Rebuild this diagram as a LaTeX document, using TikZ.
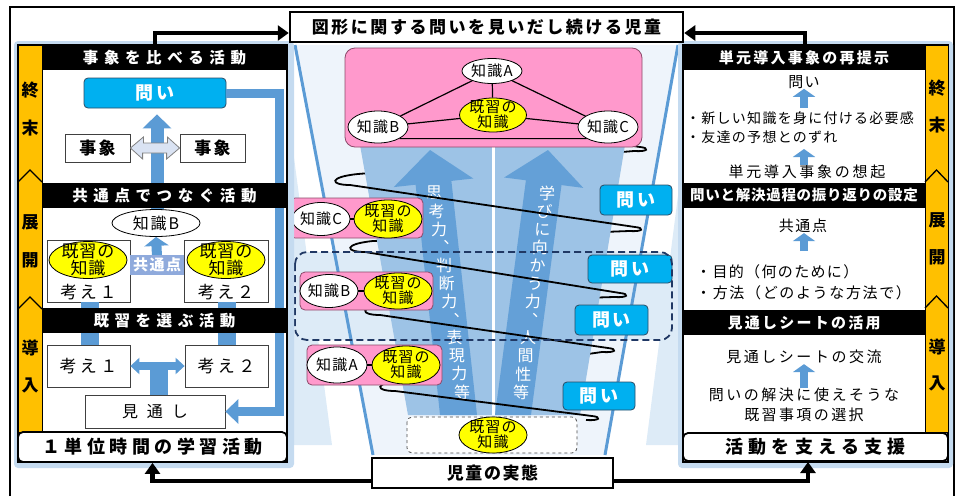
\documentclass[tikz,border=0pt]{standalone}
\usepackage{fontspec}
\setmainfont{Noto Sans CJK JP}
\usetikzlibrary{arrows.meta,calc,shapes.geometric}
\definecolor{cyanbox}{HTML}{00B0F0}
\definecolor{bluearr}{HTML}{5B9BD5}
\definecolor{orangestrip}{HTML}{FFC000}
\definecolor{pinkbox}{HTML}{FF99CC}
\definecolor{yel}{HTML}{FFFF00}
\definecolor{midblue}{HTML}{9DC3E6}
\definecolor{bgblue}{HTML}{DDEBF7}
\definecolor{funnelin}{HTML}{EEF4FB}
\definecolor{navy}{HTML}{203864}
\definecolor{shadowblue}{HTML}{C5DBF0}
\definecolor{lblue}{HTML}{DAE3F3}
\definecolor{kyotsu}{HTML}{8FAADC}
\definecolor{pinkedge}{HTML}{8C4A6A}
\definecolor{toiedge}{HTML}{2B4C66}
\newcommand\fs[2]{\fontsize{#1}{#2}\selectfont}
\newcommand\lsp[1]{\addfontfeatures{LetterSpace=#1}}
\tikzset{
  hdr/.style={fill=black, text=white, inner sep=0pt, minimum height=25},
  boxw/.style={draw=black!75, fill=white, inner sep=0pt, line width=0.8pt},
  toi/.style={draw=toiedge, fill=cyanbox, text=white, rounded corners=4pt, inner sep=0pt, line width=0.8pt, font=\fs{18}{20}\bfseries\lsp{12}},
  kw/.style={ellipse, draw=black, fill=white, inner sep=-6pt, line width=0.8pt, font=\fs{15}{15}\lsp{8}},
  ky/.style={ellipse, draw=black, fill=yel, inner sep=-6pt, line width=0.8pt, align=center, font=\fs{15}{15}\lsp{8}},
  pinkb/.style={draw=pinkedge, fill=pinkbox, line width=0.8pt},
  bk/.style={line width=4.5pt, -{Triangle[width=15pt,length=11pt]}},
  sarr/.style={bluearr, line width=8pt, -{Triangle[width=22pt,length=8pt]}},
  stripl/.style={inner sep=0pt, font=\fs{17}{17}\bfseries},
  txt/.style={inner sep=0pt, font=\fs{15}{16}},
  vt/.style={text=white, inner sep=0pt, font=\fs{16}{16}},
  helix/.style={line width=1.8pt, black},
  botb/.style={draw=black, fill=white, rounded corners=5pt, line width=1.8pt, inner sep=0pt},
}
\begin{document}
\begin{tikzpicture}[x=1pt,y=-1pt]
\useasboundingbox (0,0) rectangle (958,496);
% outer frame
\draw[line width=1.5pt] (10,496) -- (10,7) -- (954,7) -- (954,496);

% ================= MIDDLE BACKGROUND =================
\fill[bgblue] (293,150) -- (293,445) -- (332,445) -- cycle;
\fill[bgblue] (680,180) -- (680,445) -- (646,445) -- cycle;
\fill[funnelin] (295,45) -- (678,45) -- (605,455) -- (373,455) -- cycle;
\fill[bgblue, rounded corners=12pt] (295,252) rectangle (672,340);
\draw[bluearr, line width=3pt] (295,45) -- (373,455);
\draw[bluearr, line width=3pt] (678,45) -- (605,455);

% helix points
\coordinate (R0) at (640,147);
\coordinate (L1) at (338,182);
\coordinate (R1) at (635,227);
\coordinate (L2) at (353,249);
\coordinate (R2) at (620,293);
\coordinate (L3) at (368,312);
\coordinate (R3) at (608,348);
\coordinate (L4) at (383,388);
\coordinate (R4) at (592,416);
% back strokes
\draw[helix] ($(R0)+(-6,4)$) -- ($(L1)+(20,-8)$);
\draw[helix] ($(R1)+(-6,4)$) -- ($(L2)+(20,-8)$);
\draw[helix] ($(R2)+(-6,4)$) -- ($(L3)+(20,-8)$);
\draw[helix] ($(R3)+(-6,4)$) -- ($(L4)+(20,-8)$);

% inner blue trapezoid
\fill[midblue] (360,145) -- (625,145) -- (580,415) -- (408,415) -- cycle;
\draw[white, line width=3pt] (493,145) -- (493,415);
% big arrows
\fill[bluearr, opacity=0.85] (430,150) -- (473.3,178.5) -- (451.4,180.9) -- (477,415) -- (440,415) -- (415.6,184.7) -- (393.7,187.1) -- cycle;
\fill[bluearr, opacity=0.85] (548,150) -- (583.3,187.9) -- (561.5,185.1) -- (531,415) -- (495,415) -- (525.9,180.3) -- (504.1,177.5) -- cycle;
\foreach \c [count=\i] in {思,考,力,︑,判,断,力,︑,表,現,力,等}
  \node[vt] (vl\i) at ({434+(\i-1)*28/11},{193+(\i-1)*199/11}) {\c};
\foreach \c [count=\i] in {学,び,に,向,か,う,力,︑,人,間,性,等}
  \node[vt] (vr\i) at ({547-(\i-1)*26/11},{193+(\i-1)*199/11}) {\c};

% front strokes
\draw[helix] (600,141) -- (R0) .. controls ($(R0)+(10,1)$) and ($(R0)+(8,5)$) .. ($(R0)+(-6,4)$);
\draw[helix] ($(L1)+(20,-8)$) .. controls ($(L1)+(-10,-5)$) and ($(L1)+(-8,3)$) .. ($(L1)+(12,3)$) -- (R1) .. controls ($(R1)+(10,1)$) and ($(R1)+(8,5)$) .. ($(R1)+(-6,4)$);
\draw[helix] ($(L2)+(20,-8)$) .. controls ($(L2)+(-10,-5)$) and ($(L2)+(-8,3)$) .. ($(L2)+(12,3)$) -- (R2) .. controls ($(R2)+(10,1)$) and ($(R2)+(8,5)$) .. ($(R2)+(-6,4)$);
\draw[helix] ($(L3)+(20,-8)$) .. controls ($(L3)+(-10,-5)$) and ($(L3)+(-8,3)$) .. ($(L3)+(12,3)$) -- (R3) .. controls ($(R3)+(10,1)$) and ($(R3)+(8,5)$) .. ($(R3)+(-6,4)$);
\draw[helix] ($(L4)+(20,-8)$) .. controls ($(L4)+(-10,-5)$) and ($(L4)+(-8,3)$) .. ($(L4)+(12,3)$) -- (R4) .. controls ($(R4)+(10,1)$) and ($(R4)+(8,5)$) .. ($(R4)+(-6,4)$);

% bottom dashed box
\draw[dashed, black!70, line width=0.8pt, fill=white, rounded corners=5pt] (407,417) rectangle (577,453);
\node[ky, minimum width=68, minimum height=36] (y0) at (493,435) {既習の\\知識};

% knowledge boxes on the left of the funnel
\draw[pinkb, rounded corners=5pt] (290,198) rectangle (423,238);
\node[kw, minimum width=58, minimum height=33] (cC) at (321,219) {知識C};
\node[ky, minimum width=68, minimum height=38] (cY) at (388,219) {既習の\\知識};
\draw[line width=1.2pt] (cC) -- (cY);
\draw[pinkb, rounded corners=5pt] (300,272) rectangle (433,310);
\node[kw, minimum width=58, minimum height=33] (bB) at (329,291) {知識B};
\node[ky, minimum width=68, minimum height=36] (bY) at (398,291) {既習の\\知識};
\draw[line width=1.2pt] (bB) -- (bY);
\draw[pinkb, rounded corners=5pt] (307,345) rectangle (442,385);
\node[kw, minimum width=60, minimum height=36] (aA) at (337,365) {知識A};
\node[ky, minimum width=68, minimum height=38] (aY) at (406,365) {既習の\\知識};
\draw[line width=1.2pt] (aA) -- (aY);

% question boxes
\node[toi, minimum width=72, minimum height=30] (t1) at (636,200) {問い};
\node[toi, minimum width=84, minimum height=28] (t2) at (630,269) {問い};
\node[toi, minimum width=73, minimum height=30] (t3) at (611.5,320) {問い};
\node[toi, minimum width=72, minimum height=28] (t4) at (599,396) {問い};
\draw[navy, line width=1.8pt, dash pattern=on 7pt off 4pt, rounded corners=12pt] (295,252) rectangle (672,340);

% top pink box
\draw[pinkb, rounded corners=10pt] (345,48) rectangle (642,147);
\node[kw, minimum width=60, minimum height=25] (tA) at (492,71) {知識A};
\node[kw, minimum width=60, minimum height=32] (tB) at (378,127) {知識B};
\node[kw, minimum width=60, minimum height=32] (tC) at (608,127) {知識C};
\node[ky, minimum width=67, minimum height=34] (tY) at (493,115) {既習の\\知識};
\draw[line width=1.2pt] (tA) -- (tB) (tA) -- (tC) (tA) -- (tY) (tB) -- (tY) (tC) -- (tY) (tB.south east) -- (tC.south west);

% ================= LEFT PANEL =================
\fill[shadowblue, rounded corners=4pt] (14,41) rectangle (294,468);
\draw[line width=1.2pt, fill=white] (18,45) rectangle (287,462);
\draw[line width=0.8pt, fill=orangestrip] (18,45) rectangle (42,432);
\draw[line width=1.3pt] (18,182) -- (30,170) -- (42,182);
\draw[line width=1.3pt] (18,309) -- (30,297) -- (42,309);
\node[stripl] (sl1) at (30,90) {終};
\node[stripl] (sl2) at (30,128) {末};
\node[stripl] (sl3) at (30,222) {展};
\node[stripl] (sl4) at (30,260) {開};
\node[stripl] (sl5) at (30,348) {導};
\node[stripl] (sl6) at (30,385) {入};

\node[toi, minimum width=142, minimum height=30] (q1) at (155,93) {問い};
\node[boxw, minimum width=65, minimum height=28, font=\fs{17}{17}\bfseries\lsp{12}] (e1) at (97.5,148) {事象};
\node[boxw, minimum width=65, minimum height=28, font=\fs{17}{17}\bfseries\lsp{12}] (e2) at (212.5,148) {事象};
\node[boxw, minimum width=83, minimum height=62] (kA1) at (88.5,271) {};
\node[boxw, minimum width=84, minimum height=62] (kA2) at (226,271) {};
\node[boxw, minimum width=83, minimum height=42, font=\fs{17}{17}\lsp{20}] (kB1) at (88.5,366) {考え１};
\node[boxw, minimum width=83, minimum height=42, font=\fs{17}{17}\lsp{20}] (kB2) at (226.5,366) {考え２};
\node[boxw, minimum width=140, minimum height=33, font=\fs{16}{16}\lsp{55}] (mit) at (155,411.5) {見通し};

% blue arrows
\draw[bluearr, line width=9pt, -{Triangle[width=24pt,length=13pt]}] (q1.east) -| ($(mit.east)+(54,0)$) -- (mit.east);
\draw[bluearr, line width=13pt, -{Triangle[width=28pt,length=14pt]}] (157,212) -- ($(q1.south)+(2,6)$);
\draw[bluearr, line width=18pt] (kA1.south -| 90,0) -- (kB1.north -| 90,0);
\draw[bluearr, line width=18pt] (kA2.south -| 226.5,0) -- (kB2.north -| 226.5,0);
\fill[bluearr] (150,364) rectangle (168,395);
\draw[bluearr, line width=8pt, -{Triangle[width=16pt,length=9pt]}] (159,366) -- (kB1.east);
\draw[bluearr, line width=8pt, -{Triangle[width=16pt,length=9pt]}] (159,366) -- (kB2.west);
% double arrow between the two events
\draw[draw=gray, fill=lblue, line width=0.8pt] (e1.east) -- ++(13,-11) -- ++(0,6) -- ++(24,0) -- ++(0,-6) -- (e2.west) -- ++(-13,11) -- ++(0,-6) -- ++(-24,0) -- ++(0,6) -- cycle;

% knowledge inside left panel
\node[kw, minimum width=88, minimum height=27, font=\fs{16}{16}\lsp{12}] (kb) at (156,223) {知識B};
\draw[bluearr, line width=10pt, -{Triangle[width=24pt,length=9pt]}] (157,256) -- (kb.south);
\node[fill=kyotsu, text=white, inner sep=0pt, minimum width=54, minimum height=20, font=\fs{15}{15}\bfseries\lsp{10}] (kyo) at (157,265) {共通点};
\node[ky, minimum width=78, minimum height=37, font=\fs{17}{17}\lsp{5}] (y1) at (88,260) {既習の\\知識};
\node[ky, minimum width=78, minimum height=37, font=\fs{17}{17}\lsp{5}] (y2) at (226,260) {既習の\\知識};
\node[inner sep=0pt, font=\fs{17}{17}\lsp{15}] (k1t) at (88.5,292) {考え１};
\node[inner sep=0pt, font=\fs{17}{17}\lsp{15}] (k2t) at (226,292) {考え２};

% headers
\node[hdr, minimum width=245, font=\fs{15.5}{16}\bfseries\lsp{36}] (h1) at (164.5,57.5) {事象を比べる活動};
\node[hdr, minimum width=245, font=\fs{15.5}{16}\bfseries\lsp{36}] (h2) at (164.5,195.5) {共通点でつなぐ活動};
\node[hdr, minimum width=245, font=\fs{15.5}{16}\bfseries\lsp{36}] (h3) at (164.5,320.5) {既習を選ぶ活動};
\node[botb, minimum width=269, minimum height=30, font=\fs{18}{18}\bfseries\lsp{25}] (b1) at (152.5,447) {１単位時間の学習活動};

% ================= RIGHT PANEL =================
\fill[shadowblue, rounded corners=4pt] (678,41) rectangle (953,468);
\draw[line width=1.2pt, fill=white] (683,45) rectangle (948,462);
\draw[line width=0.8pt, fill=orangestrip] (925,45) rectangle (948,432);
\draw[line width=1.3pt] (925,182) -- (936.5,170) -- (948,182);
\draw[line width=1.3pt] (925,308) -- (936.5,296) -- (948,308);
\node[stripl] (sr1) at (937,88) {終};
\node[stripl] (sr2) at (937,125) {末};
\node[stripl] (sr3) at (937,220) {展};
\node[stripl] (sr4) at (937,257) {開};
\node[stripl] (sr5) at (937,347) {導};
\node[stripl] (sr6) at (937,383) {入};

\node[hdr, minimum width=242, font=\fs{15}{16}\bfseries\lsp{15}] (hr1) at (804,57.5) {単元導入事象の再提示};
\node[hdr, minimum width=242, font=\fs{14.5}{16}\bfseries\lsp{5}] (hr2) at (804,195.5) {問いと解決過程の振り返りの設定};
\node[hdr, minimum width=242, font=\fs{15}{16}\bfseries\lsp{15}] (hr3) at (804,322.5) {見通しシートの活用};
\node[botb, minimum width=265, minimum height=28, font=\fs{18}{18}\bfseries\lsp{29}] (b2) at (815.5,447) {活動を支える支援};

\node[txt, font=\fs{15}{16}\lsp{7}] (rq) at (804,82) {問い};
\node[txt, anchor=west, font=\fs{14}{16}\lsp{9}] (rb1) at (686,118) {・新しい知識を身に付ける必要感};
\node[txt, anchor=west, font=\fs{14}{16}\lsp{9}] (rb2) at (686,137) {・友達の予想とのずれ};
\node[txt, font=\fs{15}{16}\lsp{18}] (rs) at (807,172) {単元導入事象の想起};
\draw[sarr] (804,108) -- (rq.south);
\draw[sarr] (rs.north -| 804,0) -- (804,149);
\node[txt, font=\fs{15}{16}\lsp{11}] (rk) at (803,226) {共通点};
\draw[sarr] (804,251) -- (rk.south -| 804,0);
\node[txt, anchor=west, font=\fs{15}{16}\lsp{9}] (rm1) at (696,272) {・目的（何のために）};
\node[txt, anchor=west, font=\fs{15}{16}\lsp{11}] (rm2) at (696,293) {・方法（どのような方法で）};
\node[txt, font=\fs{15}{16}\lsp{17}] (rx) at (804,357) {見通しシートの交流};
\node[txt, font=\fs{15}{16}\lsp{17}] (ry1) at (804,395) {問いの解決に使えそうな};
\node[txt, font=\fs{15}{16}\lsp{16}] (ry2) at (804,415) {既習事項の選択};
\draw[sarr] (ry1.north -| 804,0) -- (rx.south -| 804,0);

% ================= TITLE AND CONNECTORS =================
\node[draw=black, fill=white, line width=2.5pt, inner sep=0pt, minimum width=393, minimum height=30, font=\fs{17}{18}\bfseries\lsp{15}] (title) at (486.5,27) {図形に関する問いを見いだし続ける児童};
\coordinate (la) at (155,45);
\coordinate (ra) at (805,45);
\draw[bk] (la) |- ($(title.west)+(0,6)$);
\draw[bk] (ra) |- ($(title.east)+(0,6)$);

\node[draw=black, fill=white, line width=1.2pt, inner sep=0pt, minimum width=241, minimum height=30, font=\fs{17}{17}\bfseries\lsp{9}] (child) at (492.5,473) {児童の実態};
\coordinate (b2in) at (808,462);
\draw[bk] ($(child.west)+(0,8)$) -| (b1.south);
\draw[bk] ($(child.east)+(0,8)$) -| (b2in);
\end{tikzpicture}
\end{document}
